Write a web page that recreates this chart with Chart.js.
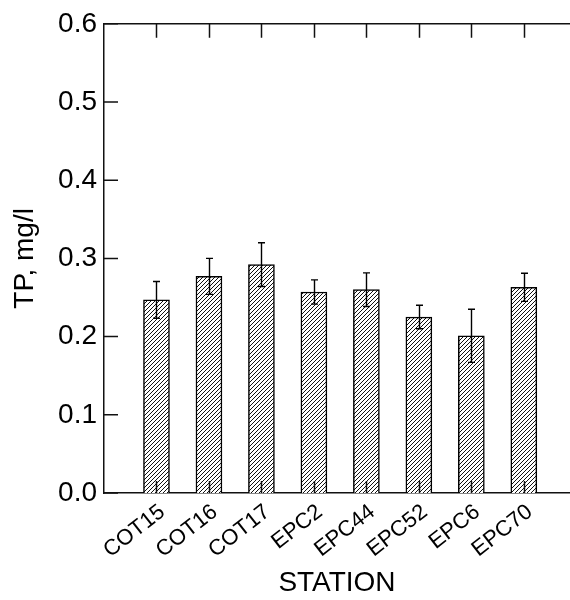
<!DOCTYPE html>
<html>
<head>
<meta charset="utf-8">
<title>TP by station</title>
<script src="https://cdn.jsdelivr.net/npm/chart.js@4.4.1/dist/chart.umd.min.js"></script>
<style>
  html, body { margin: 0; padding: 0; background: #fff; }
  canvas { display: block; }
</style>
</head>
<body>
<canvas id="chart" width="570" height="600"></canvas>
<script>
// Total phosphorus per monitoring station: mean and error half-width
const stations = ['COT15', 'COT16', 'COT17', 'EPC2', 'EPC44', 'EPC52', 'EPC6', 'EPC70'];
const tpMean   = [0.247, 0.277, 0.292, 0.257, 0.260, 0.225, 0.201, 0.263];
const tpErr    = [0.0235, 0.023, 0.028, 0.0155, 0.0215, 0.015, 0.034, 0.018];
const yTicks   = [0.0, 0.1, 0.2, 0.3, 0.4, 0.5, 0.6];

const FONT = '"Liberation Sans", Arial, Helvetica, sans-serif';
const INK = '#000';
const X_MIN = -1;
const X_MAX = 7.88;

// Diagonal "/" hatch used to fill the bars
function makeHatch() {
  const w = 4, h = 4;
  const c = document.createElement('canvas');
  c.width = w; c.height = h;
  const g = c.getContext('2d');
  g.fillStyle = '#fff';
  g.fillRect(0, 0, w, h);
  g.strokeStyle = '#111';
  g.lineWidth = 1;
  g.beginPath();
  for (const dx of [-w, 0, w]) {
    g.moveTo(dx, h);
    g.lineTo(dx + w, 0);
  }
  g.stroke();
  return g.createPattern(c, 'repeat');
}

// Vertical error bars with short caps
const errorBars = {
  id: 'errorBars',
  afterDatasetsDraw(chart) {
    const { ctx, scales: { x, y } } = chart;
    ctx.save();
    ctx.strokeStyle = INK;
    ctx.lineWidth = 1.4;
    ctx.beginPath();
    tpMean.forEach((m, i) => {
      const px = Math.round(x.getPixelForValue(i)) + 0.5;
      const hi = y.getPixelForValue(m + tpErr[i]);
      const lo = y.getPixelForValue(m - tpErr[i]);
      ctx.moveTo(px, hi); ctx.lineTo(px, lo);
      ctx.moveTo(px - 3.5, hi); ctx.lineTo(px + 3.5, hi);
      ctx.moveTo(px - 3.5, lo); ctx.lineTo(px + 3.5, lo);
    });
    ctx.stroke();
    ctx.restore();
  }
};

// Tick marks pointing into the plot on the left, top and bottom edges
const innerTicks = {
  id: 'innerTicks',
  afterDraw(chart) {
    const { ctx, chartArea: a, scales: { x, y } } = chart;
    ctx.save();
    ctx.strokeStyle = '#111';
    ctx.lineWidth = 1.5;
    ctx.beginPath();
    yTicks.forEach(v => {
      const py = y.getPixelForValue(v);
      ctx.moveTo(a.left, py); ctx.lineTo(a.left + 14, py);
    });
    stations.forEach((s, i) => {
      const px = Math.round(x.getPixelForValue(i)) + 0.5;
      ctx.moveTo(px, a.top); ctx.lineTo(px, a.top + 14);
      ctx.moveTo(px, a.bottom); ctx.lineTo(px, a.bottom - 12);
    });
    ctx.stroke();
    ctx.restore();
  }
};

const stationLabel = v => {
  const i = Math.round(v);
  return Math.abs(v - i) < 1e-6 && i >= 0 && i < stations.length ? stations[i] : '';
};

new Chart(document.getElementById('chart'), {
  type: 'bar',
  data: {
    datasets: [{
      label: 'TP',
      data: stations.map((s, i) => ({ x: i, y: tpMean[i] })),
      backgroundColor: makeHatch(),
      borderColor: INK,
      borderWidth: 1.5,
      barThickness: 26
    }]
  },
  plugins: [errorBars, innerTicks],
  options: {
    responsive: false,
    animation: false,
    devicePixelRatio: 1,
    layout: { padding: { top: 23, right: 0, bottom: 0, left: 0 } },
    plugins: { legend: { display: false }, tooltip: { enabled: false } },
    scales: {
      x: {
        type: 'linear',
        position: 'bottom',
        offset: false,
        min: X_MIN,
        max: X_MAX,
        z: 1,
        afterFit: s => { s.height = 107; },
        grid: { display: false, drawTicks: false, offset: false },
        border: { display: true, color: '#111', width: 1.5 },
        ticks: {
          stepSize: 1,
          autoSkip: false,
          includeBounds: false,
          minRotation: 38,
          maxRotation: 38,
          padding: 6,
          labelOffset: 6,
          color: INK,
          font: { family: FONT, size: 22 },
          callback: stationLabel
        },
        title: {
          display: true,
          text: 'STATION',
          color: INK,
          font: { family: FONT, size: 28 },
          padding: { top: 0, bottom: 0 }
        }
      },
      xTop: {
        type: 'linear',
        position: 'top',
        offset: false,
        min: X_MIN,
        max: X_MAX,
        z: 1,
        afterFit: s => { s.height = 0; },
        grid: { display: false, drawTicks: false, offset: false },
        border: { display: true, color: '#111', width: 1.5 },
        ticks: { display: false }
      },
      y: {
        min: 0,
        max: 0.6,
        z: 1,
        afterFit: s => { s.width = 104; },
        grid: { display: false, drawTicks: false },
        border: { display: true, color: '#111', width: 1.5 },
        ticks: {
          stepSize: 0.1,
          padding: 7,
          color: INK,
          font: { family: FONT, size: 28 },
          callback: v => Number(v).toFixed(1)
        },
        title: {
          display: true,
          text: 'TP, mg/l',
          color: INK,
          font: { family: FONT, size: 28 },
          padding: { top: 8, bottom: 0 }
        }
      }
    }
  }
});
</script>
</body>
</html>
